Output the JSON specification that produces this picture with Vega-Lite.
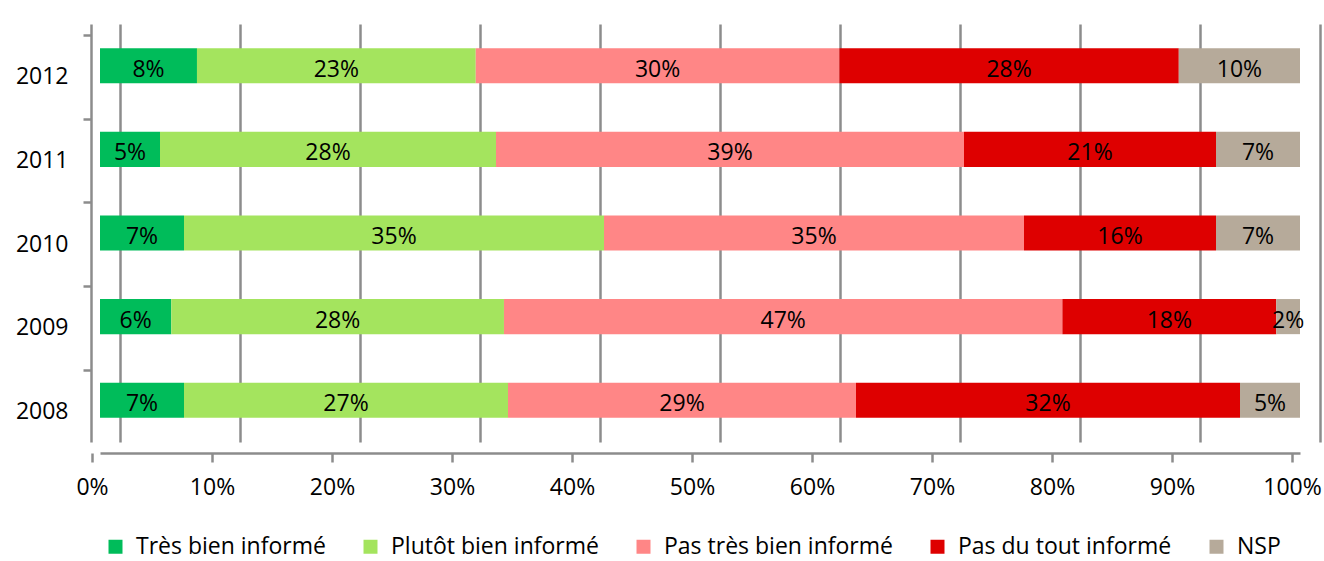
{
  "$schema": "https://vega.github.io/schema/vega-lite/v6.json",
  "width": 1200,
  "height": 418,
  "autosize": {"type": "none"},
  "padding": {"left": 100, "top": 24, "right": 24, "bottom": 119},
  "background": "white",
  "config": {
    "view": {"stroke": null},
    "font": "Open Sans",
    "text": {"font": "Open Sans"}
  },
  "data": {
    "values": [
      {"annee": "2012", "categorie": "Très bien informé", "rang": 1, "pct": 0.08},
      {"annee": "2012", "categorie": "Plutôt bien informé", "rang": 2, "pct": 0.23},
      {"annee": "2012", "categorie": "Pas très bien informé", "rang": 3, "pct": 0.30},
      {"annee": "2012", "categorie": "Pas du tout informé", "rang": 4, "pct": 0.28},
      {"annee": "2012", "categorie": "NSP", "rang": 5, "pct": 0.10},
      {"annee": "2011", "categorie": "Très bien informé", "rang": 1, "pct": 0.05},
      {"annee": "2011", "categorie": "Plutôt bien informé", "rang": 2, "pct": 0.28},
      {"annee": "2011", "categorie": "Pas très bien informé", "rang": 3, "pct": 0.39},
      {"annee": "2011", "categorie": "Pas du tout informé", "rang": 4, "pct": 0.21},
      {"annee": "2011", "categorie": "NSP", "rang": 5, "pct": 0.07},
      {"annee": "2010", "categorie": "Très bien informé", "rang": 1, "pct": 0.07},
      {"annee": "2010", "categorie": "Plutôt bien informé", "rang": 2, "pct": 0.35},
      {"annee": "2010", "categorie": "Pas très bien informé", "rang": 3, "pct": 0.35},
      {"annee": "2010", "categorie": "Pas du tout informé", "rang": 4, "pct": 0.16},
      {"annee": "2010", "categorie": "NSP", "rang": 5, "pct": 0.07},
      {"annee": "2009", "categorie": "Très bien informé", "rang": 1, "pct": 0.06},
      {"annee": "2009", "categorie": "Plutôt bien informé", "rang": 2, "pct": 0.28},
      {"annee": "2009", "categorie": "Pas très bien informé", "rang": 3, "pct": 0.47},
      {"annee": "2009", "categorie": "Pas du tout informé", "rang": 4, "pct": 0.18},
      {"annee": "2009", "categorie": "NSP", "rang": 5, "pct": 0.02},
      {"annee": "2008", "categorie": "Très bien informé", "rang": 1, "pct": 0.07},
      {"annee": "2008", "categorie": "Plutôt bien informé", "rang": 2, "pct": 0.27},
      {"annee": "2008", "categorie": "Pas très bien informé", "rang": 3, "pct": 0.29},
      {"annee": "2008", "categorie": "Pas du tout informé", "rang": 4, "pct": 0.32},
      {"annee": "2008", "categorie": "NSP", "rang": 5, "pct": 0.05}
    ]
  },
  "transform": [
    {"stack": "pct", "groupby": ["annee"], "sort": [{"field": "rang", "order": "ascending"}], "offset": "normalize", "as": ["x0", "x1"]}
  ],
  "encoding": {
    "y": {
      "field": "annee", "type": "ordinal", "sort": "descending",
      "scale": {"paddingInner": 0.58, "paddingOuter": 0.29},
      "axis": {
        "title": null, "offset": 9, "bandPosition": 0, "tickOffset": -13, "labelOffset": 24,
        "ticks": true, "tickSize": 8, "tickColor": "#8c8c8c", "tickWidth": 2.5,
        "labelPadding": 15, "labelFontSize": 23, "labelFont": "Open Sans", "labelBaseline": "middle",
        "labelColor": "#000000", "domainColor": "#8c8c8c", "domainWidth": 2.5
      }
    }
  },
  "resolve": {"axis": {"x": "independent"}},
  "layer": [
    {
      "mark": {"type": "bar"},
      "encoding": {
        "x": {
          "field": "x0", "type": "quantitative",
          "scale": {"domain": [0, 1], "nice": false},
          "axis": {
            "title": null, "orient": "bottom", "format": ".0%",
            "values": [0, 0.1, 0.2, 0.3, 0.4, 0.5, 0.6, 0.7, 0.8, 0.9, 1],
            "grid": false, "offset": 11, "tickOffset": -8,
            "domainColor": "#8c8c8c", "domainWidth": 2.5,
            "tickColor": "#8c8c8c", "tickWidth": 2.5, "tickSize": 9,
            "labelFontSize": 23, "labelFont": "Open Sans", "labelColor": "#000000", "labelPadding": 14,
            "labelFlush": false, "labelOverlap": false
          }
        },
        "x2": {"field": "x1"},
        "color": {
          "field": "categorie", "type": "nominal",
          "scale": {
            "domain": ["Très bien informé", "Plutôt bien informé", "Pas très bien informé", "Pas du tout informé", "NSP"],
            "range": ["#00BC5A", "#A4E45E", "#FF8686", "#DE0000", "#B6AA9A"]
          },
          "legend": {
            "title": null, "orient": "none", "direction": "horizontal", "legendX": 4, "legendY": 511,
            "symbolType": "square", "symbolSize": 196, "symbolStrokeWidth": 0, "labelOffset": 9,
            "labelFontSize": 23, "labelFont": "Open Sans", "labelColor": "#000000",
            "columnPadding": 33, "labelLimit": 400
          }
        }
      }
    },
    {
      "transform": [{"fold": ["x0", "x1"], "as": ["bord", "pos"]}],
      "mark": {"type": "text", "fontSize": 23, "font": "Open Sans", "color": "#000000", "baseline": "middle", "dy": 4},
      "encoding": {
        "x": {
          "field": "pos", "type": "quantitative", "aggregate": "mean",
          "axis": {
            "title": null, "orient": "top", "values": [0, 0.1, 0.2, 0.3, 0.4, 0.5, 0.6, 0.7, 0.8, 0.9, 1],
            "grid": true, "gridColor": "#8c8c8c", "gridWidth": 2.5, "tickOffset": 20,
            "labels": false, "ticks": false, "domain": false
          }
        },
        "detail": {"field": "categorie"},
        "text": {"field": "pct", "type": "quantitative", "format": ".0%"}
      }
    }
  ]
}
